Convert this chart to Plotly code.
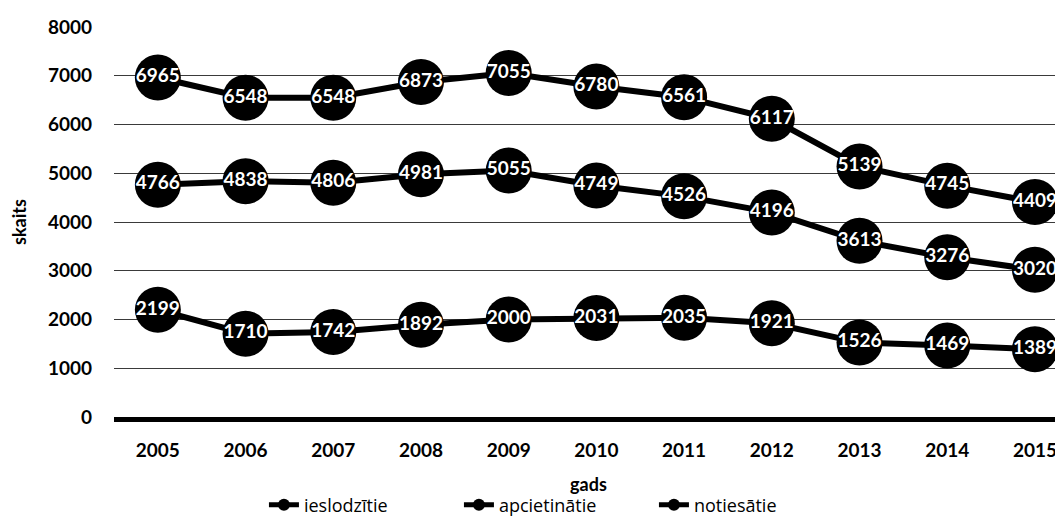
import plotly.graph_objects as go

years = ["2005", "2006", "2007", "2008", "2009", "2010", "2011", "2012", "2013", "2014", "2015"]
ieslodzitie = [6965, 6548, 6548, 6873, 7055, 6780, 6561, 6117, 5139, 4745, 4409]
notiesatie = [4766, 4838, 4806, 4981, 5055, 4749, 4526, 4196, 3613, 3276, 3020]
apcietinatie = [2199, 1710, 1742, 1892, 2000, 2031, 2035, 1921, 1526, 1469, 1389]

series = [("ieslodzītie", ieslodzitie), ("apcietinātie", apcietinatie), ("notiesātie", notiesatie)]

fig = go.Figure()

# līnijas ar apļiem un baltiem skaitļiem
for name, vals in series:
    fig.add_trace(go.Scatter(
        x=years, y=vals, name=name, mode="lines+markers+text",
        text=[str(v) for v in vals], textposition="middle center",
        textfont=dict(family="Lato", size=19, color="white", weight="bold"),
        line=dict(color="black", width=6),
        marker=dict(color="black", size=46),
        showlegend=False, cliponaxis=False
    ))

# leģendas ieraksti
for name, vals in series:
    fig.add_trace(go.Scatter(
        x=[None], y=[None], name=name, mode="lines+markers",
        line=dict(color="black", width=5),
        marker=dict(color="black", size=10)
    ))

fig.update_layout(
    width=1055, height=517,
    margin=dict(l=106, r=0, t=19, b=108, autoexpand=False),
    plot_bgcolor="white", paper_bgcolor="white",
    font=dict(family="Lato", color="black"),
    xaxis=dict(
        type="category", range=[-0.5, 10.32],
        showgrid=False, showline=True, linecolor="black", linewidth=5,
        ticks="", ticklabelstandoff=12,
        tickfont=dict(size=19, weight="bold"),
        title=dict(text="gads", font=dict(size=18, weight="bold"), standoff=20)
    ),
    yaxis=dict(
        range=[0, 8000], dtick=1000,
        showgrid=True, gridcolor="#3a3a3a", gridwidth=1, zeroline=False,
        ticks="", ticklabelstandoff=21,
        tickfont=dict(size=19, weight="bold"),
        title=dict(text="skaits", font=dict(size=18, weight="bold"), standoff=38)
    ),
    legend=dict(
        orientation="h", x=0.158, xanchor="left", y=-0.2256, yanchor="middle",
        font=dict(family="Open Sans", size=18), itemsizing="constant",
        entrywidth=150
    )
)

fig.write_html("out.html")
